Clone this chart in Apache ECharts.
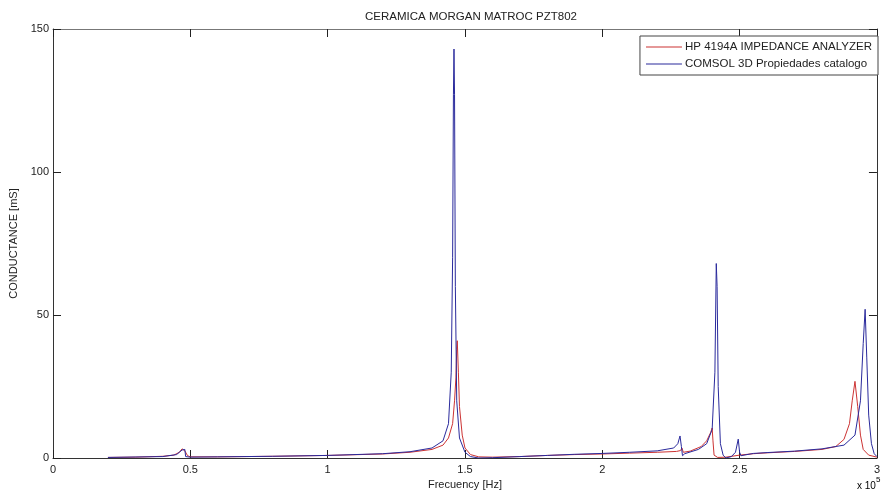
<!DOCTYPE html>
<html>
<head>
<meta charset="utf-8">
<script src="https://cdn.jsdelivr.net/npm/echarts@6/dist/echarts.min.js"></script>
<style>
  html, body { margin: 0; padding: 0; background: #fff; }
  #chart { width: 883px; height: 496px; }
</style>
</head>
<body>
<div id="chart"></div>
<script>
// frecuencia en unidades de 1e5 Hz, conductancia en mS
var hpFreq = [0.20, 0.30, 0.40, 0.44, 0.46, 0.47, 0.48, 0.49, 0.50, 0.60, 0.80, 1.00, 1.20, 1.30, 1.38, 1.42, 1.44,
  1.455, 1.462, 1.467, 1.470, 1.472, 1.476, 1.48, 1.49, 1.50, 1.52, 1.55, 1.60, 1.70, 1.80, 1.90, 2.00, 2.10,
  2.20, 2.27, 2.285, 2.29, 2.295, 2.32, 2.36, 2.38, 2.395, 2.40, 2.403, 2.407, 2.42, 2.45, 2.50, 2.55, 2.60,
  2.70, 2.80, 2.85, 2.88, 2.90, 2.91, 2.92, 2.93, 2.94, 2.95, 2.97, 3.00]
var hpCond = [0.2, 0.3, 0.6, 1.0, 2.0, 3.2, 2.5, 0.8, 0.4, 0.4, 0.6, 0.9, 1.4, 2.0, 3.0, 4.5, 7,
  12, 20, 28, 38, 41, 30, 18, 8, 3.5, 1.2, 0.4, 0.3, 0.5, 0.9, 1.2, 1.4, 1.7,
  2.0, 2.3, 2.6, 3.5, 2.0, 2.4, 4, 6, 9, 10.5, 6, 1, 0.2, 0.3, 1.0, 1.5, 1.8,
  2.3, 3.0, 4.0, 6.5, 12, 20, 26.8, 18, 8, 3, 1, 0.3]

var comsolFreq = [0.20, 0.40, 0.45, 0.47, 0.48, 0.483, 0.49, 0.50, 0.60, 0.80, 1.00, 1.20, 1.30, 1.38, 1.42, 1.44,
  1.450, 1.455, 1.458, 1.460, 1.462, 1.465, 1.47, 1.48, 1.50, 1.52, 1.55, 1.60, 1.70, 1.80, 1.90, 2.00, 2.10,
  2.20, 2.26, 2.275, 2.283, 2.288, 2.292, 2.30, 2.35, 2.38, 2.40, 2.41, 2.415, 2.418, 2.422, 2.43, 2.44, 2.45,
  2.47, 2.485, 2.495, 2.50, 2.505, 2.55, 2.60, 2.70, 2.80, 2.88, 2.92, 2.94, 2.95, 2.957, 2.963, 2.97, 2.98,
  2.99, 3.00]
var comsolCond = [0.2, 0.5, 1.2, 2.8, 3.0, 0.5, 0.1, 0.3, 0.4, 0.6, 0.9, 1.5, 2.2, 3.5, 6, 12,
  30, 70, 127, 143, 127, 60, 20, 7, 2, 0.5, 0, 0.1, 0.5, 0.9, 1.3, 1.6, 2.0,
  2.5, 3.5, 5, 7.7, 4, 0.8, 1.5, 3, 5, 10, 30, 68, 60, 25, 5, 1, 0,
  0.5, 2, 6.6, 2, 0.8, 1.6, 1.9, 2.4, 3.2, 4.5, 8, 20, 40, 52, 35, 15, 5,
  1.5, 0.5]

var xTickLabels = ['0', '0.5', '1', '1.5', '2', '2.5', '3']
var yTickLabels = ['0', '50', '100', '150']

function pairs(xs, ys) {
  return xs.map(function (x, i) { return [x, ys[i]] })
}

var font = '"Liberation Sans", Arial, sans-serif'
var chart = echarts.init(document.getElementById('chart'))

var axisBase = {
  type: 'value',
  axisLine: { show: true, onZero: false, lineStyle: { color: '#333', width: 1 } },
  axisTick: { show: true, inside: true, length: 8, lineStyle: { color: '#222' } },
  splitLine: { show: false }
}

var option = {
  animation: false,
  backgroundColor: '#fff',
  title: {
    text: 'CERAMICA MORGAN MATROC PZT802',
    left: 466, top: 6, textAlign: 'center',
    textStyle: { fontFamily: font, fontSize: 11.5, fontWeight: 'normal', color: '#222' }
  },
  grid: { left: 53, right: 1, top: 29, bottom: 38 },
  legend: {
    orient: 'vertical',
    right: 5, top: 36,
    backgroundColor: '#fff',
    borderColor: '#444', borderWidth: 1,
    padding: [5, 6, 5, 6],
    itemGap: 5,
    itemWidth: 36, itemHeight: 1,
    icon: 'rect',
    textStyle: { fontFamily: font, fontSize: 11.5, color: '#222', padding: [0, 0, 0, -2] },
    data: ['HP 4194A IMPEDANCE ANALYZER', 'COMSOL 3D Propiedades catalogo']
  },
  xAxis: [
    Object.assign({}, axisBase, {
      min: 0, max: 3, interval: 0.5,
      position: 'bottom',
      axisLabel: {
        margin: 6, fontFamily: font, fontSize: 11, color: '#222',
        formatter: function (v) { return xTickLabels[Math.round(v / 0.5)] }
      },
      name: 'Frecuency [Hz]', nameLocation: 'middle', nameGap: 21,
      nameTextStyle: { fontFamily: font, fontSize: 11, color: '#222' }
    }),
    Object.assign({}, axisBase, {
      min: 0, max: 3, interval: 0.5,
      position: 'top',
      axisLine: { show: true, onZero: false, lineStyle: { color: '#777', width: 1 } },
      axisLabel: { show: false }
    })
  ],
  yAxis: [
    Object.assign({}, axisBase, {
      min: 0, max: 150, interval: 50,
      position: 'left',
      axisLabel: {
        margin: 4, fontFamily: font, fontSize: 11, color: '#222',
        formatter: function (v) { return yTickLabels[Math.round(v / 50)] }
      },
      name: 'CONDUCTANCE [mS]', nameLocation: 'middle', nameGap: 30, nameRotate: 90,
      nameTextStyle: { fontFamily: font, fontSize: 11, color: '#222', padding: [0, 0, -6, 0] }
    }),
    Object.assign({}, axisBase, {
      min: 0, max: 150, interval: 50,
      position: 'right',
      axisLabel: { show: false }
    })
  ],
  graphic: [{
    type: 'text',
    left: 857, top: 476,
    style: {
      text: '{a|x 10}{b|5}',
      rich: {
        a: { fontFamily: font, fontSize: 10, color: '#222', padding: [6, 0, 0, 0] },
        b: { fontFamily: font, fontSize: 8, color: '#222', padding: [0, 0, 6, 0] }
      }
    }
  }],
  series: [
    {
      name: 'HP 4194A IMPEDANCE ANALYZER',
      type: 'line',
      showSymbol: false,
      symbol: 'none',
      color: '#cc3333',
      lineStyle: { width: 1, color: '#cc3333' },
      data: pairs(hpFreq, hpCond)
    },
    {
      name: 'COMSOL 3D Propiedades catalogo',
      type: 'line',
      showSymbol: false,
      symbol: 'none',
      color: '#2a2a9c',
      lineStyle: { width: 1, color: '#2a2a9c' },
      data: pairs(comsolFreq, comsolCond)
    }
  ]
}

chart.setOption(option)
</script>
</body>
</html>
